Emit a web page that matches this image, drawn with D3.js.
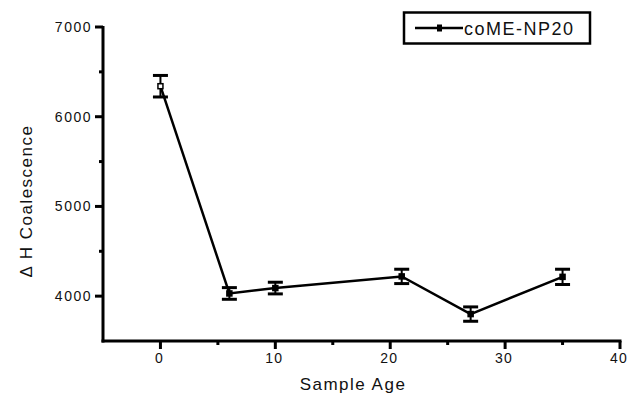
<!DOCTYPE html>
<html>
<head>
<meta charset="utf-8">
<script src="https://cdn.jsdelivr.net/npm/d3@7"></script>
<style>
html,body{margin:0;padding:0;background:#fff;}
svg{display:block;}
text{font-family:"Liberation Sans",Arial,sans-serif;fill:#111;}
</style>
</head>
<body>
<svg id="chart" width="628" height="401"></svg>
<script>
// Data
const ages = [0, 6, 10, 21, 27, 35];
const deltaH = [6340, 4030, 4090, 4220, 3800, 4215];
const errors = [120, 65, 65, 80, 80, 85];
const xMajorTicks = [0, 10, 20, 30, 40];
const xMinorTicks = [5, 15, 25, 35];
const yMajorTicks = [4000, 5000, 6000, 7000];
const yMinorTicks = [4500, 5500, 6500];
const seriesName = "coME-NP20";
const xTitle = "Sample Age";
const yTitle = "\u0394 H Coalescence";

const svg = d3.select("#chart");
const x = d3.scaleLinear().domain([-5, 40]).range([103, 620]);
const y = d3.scaleLinear().domain([3500, 7000]).range([341, 27]);

const g = svg.append("g");
const x0 = x(-5), y0 = y(3500);

// Axis lines
g.append("line").attr("x1", x0 - 1.5).attr("x2", x(40) + 1.5).attr("y1", y0).attr("y2", y0)
  .attr("stroke", "#000").attr("stroke-width", 3);
g.append("line").attr("x1", x0).attr("x2", x0).attr("y1", y(7000) - 1).attr("y2", y0 + 1.5)
  .attr("stroke", "#000").attr("stroke-width", 3);

// Ticks (drawn from scales)
g.selectAll(".xmaj").data(xMajorTicks).enter().append("line")
  .attr("x1", d => x(d)).attr("x2", d => x(d)).attr("y1", y0).attr("y2", y0 + 8)
  .attr("stroke", "#000").attr("stroke-width", 3);
g.selectAll(".xmin").data(xMinorTicks).enter().append("line")
  .attr("x1", d => x(d)).attr("x2", d => x(d)).attr("y1", y0).attr("y2", y0 + 4)
  .attr("stroke", "#000").attr("stroke-width", 3);
g.selectAll(".ymaj").data(yMajorTicks).enter().append("line")
  .attr("x1", x0 - 8).attr("x2", x0).attr("y1", d => y(d)).attr("y2", d => y(d))
  .attr("stroke", "#000").attr("stroke-width", 3);
g.selectAll(".ymin").data(yMinorTicks).enter().append("line")
  .attr("x1", x0 - 4).attr("x2", x0).attr("y1", d => y(d)).attr("y2", d => y(d))
  .attr("stroke", "#000").attr("stroke-width", 3);

// Tick labels
g.selectAll(".xlab").data(xMajorTicks).enter().append("text")
  .attr("x", d => x(d) - 1).attr("y", y0 + 22).attr("text-anchor", "middle")
  .style("font-size", "14px").style("letter-spacing", "1.2px").text(d => d);
g.selectAll(".ylab").data(yMajorTicks).enter().append("text")
  .attr("x", x0 - 11).attr("y", d => y(d) + 5).attr("text-anchor", "end")
  .style("font-size", "14px").style("letter-spacing", "1.5px").text(d => d);

// Titles
svg.append("text").attr("x", 353).attr("y", 390).attr("text-anchor", "middle")
  .style("font-size", "17px").style("letter-spacing", "1.5px").text(xTitle);
svg.append("text").attr("transform", "translate(32,201) rotate(-90)").attr("text-anchor", "middle")
  .style("font-size", "17px").style("letter-spacing", "1.5px").text(yTitle);

// Data
const pts = ages.map((a, i) => ({x: a, y: deltaH[i], e: errors[i], i}));
g.append("path").datum(pts)
  .attr("fill", "none").attr("stroke", "#000").attr("stroke-width", 2.5)
  .attr("d", d3.line().x(d => x(d.x)).y(d => y(d.y)));

const eb = g.selectAll(".eb").data(pts).enter().append("g");
eb.append("line").attr("x1", d => x(d.x)).attr("x2", d => x(d.x))
  .attr("y1", d => y(d.y + d.e)).attr("y2", d => y(d.y - d.e))
  .attr("stroke", "#000").attr("stroke-width", 2);
eb.append("line").attr("x1", d => x(d.x) - 7.5).attr("x2", d => x(d.x) + 7.5)
  .attr("y1", d => y(d.y + d.e)).attr("y2", d => y(d.y + d.e))
  .attr("stroke", "#000").attr("stroke-width", 3);
eb.append("line").attr("x1", d => x(d.x) - 7.5).attr("x2", d => x(d.x) + 7.5)
  .attr("y1", d => y(d.y - d.e)).attr("y2", d => y(d.y - d.e))
  .attr("stroke", "#000").attr("stroke-width", 3);
eb.append("rect").attr("x", d => x(d.x) - 2.5).attr("y", d => y(d.y) - 2.5)
  .attr("width", 5).attr("height", 5)
  .attr("fill", d => d.i === 0 ? "#fff" : "#000").attr("stroke", "#000").attr("stroke-width", 1.5);

// Legend
const lg = svg.append("g");
lg.append("rect").attr("x", 404).attr("y", 12.5).attr("width", 186).attr("height", 31)
  .attr("fill", "#fff").attr("stroke", "#000").attr("stroke-width", 2.5);
lg.append("line").attr("x1", 415).attr("x2", 463).attr("y1", 28).attr("y2", 28)
  .attr("stroke", "#000").attr("stroke-width", 2.5);
lg.append("rect").attr("x", 437).attr("y", 24.5).attr("width", 5).attr("height", 7).attr("fill", "#000");
lg.append("text").attr("x", 464).attr("y", 34.5).style("font-size", "18px").style("letter-spacing", "1.5px").text(seriesName);
</script>
</body>
</html>
